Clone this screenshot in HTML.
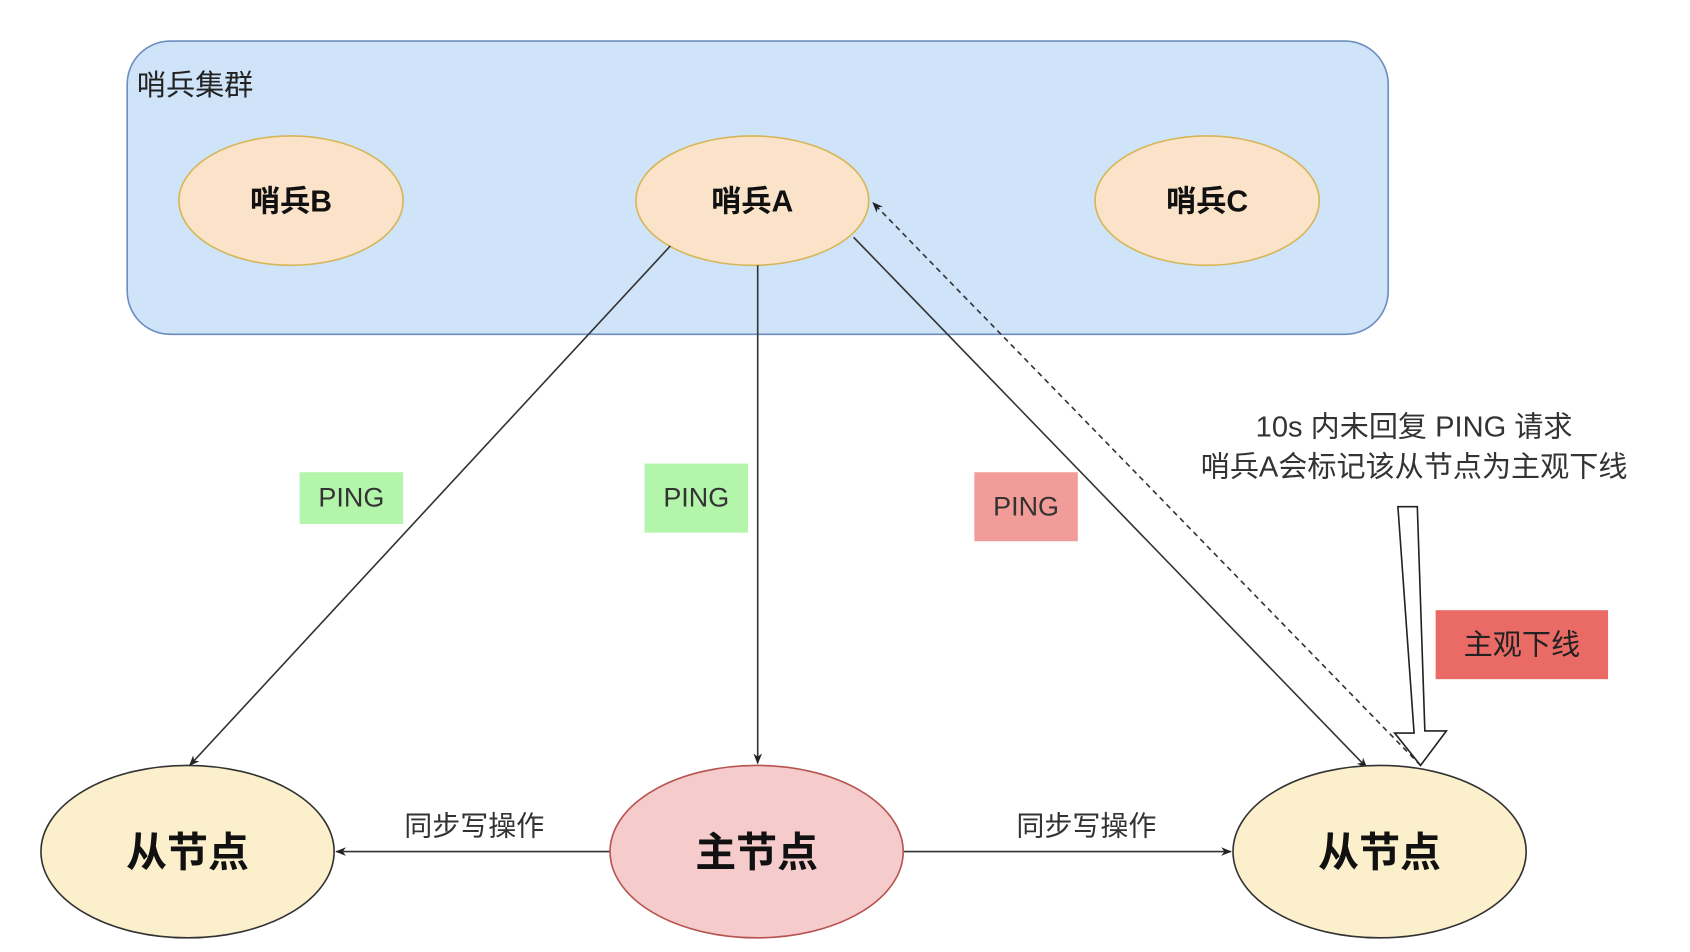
<!DOCTYPE html>
<html><head><meta charset="utf-8"><style>html,body{margin:0;padding:0;background:#fff;}svg{display:block}</style></head>
<body>
<svg width="1690" height="952" viewBox="0 0 1568 883" xmlns="http://www.w3.org/2000/svg" font-family="Liberation Sans, Noto Sans CJK SC, sans-serif">
<defs>
<marker id="ar" markerWidth="10" markerHeight="10" refX="9" refY="5" orient="auto" markerUnits="userSpaceOnUse"><path d="M0,1 L10,5 L0,9 L3,5 z" fill="#222"/></marker>
</defs>
<rect width="1568" height="883" fill="#fff"/>
<rect x="118" y="38" width="1170" height="272" rx="40" fill="#cfe3f9" stroke="#6c8ebf" stroke-width="1.5"/>
<text x="127" y="88" font-size="27" fill="#222">哨兵集群</text>
<g fill="#fbe3c9" stroke="#d6b656" stroke-width="1.5">
<ellipse cx="270" cy="186" rx="104" ry="60"/>
<ellipse cx="698" cy="186" rx="108" ry="60"/>
<ellipse cx="1120" cy="186" rx="104" ry="60"/>
</g>
<g font-size="28" font-weight="bold" text-anchor="middle" fill="#111">
<text x="270" y="196">哨兵B</text>
<text x="698" y="196">哨兵A</text>
<text x="1120" y="196">哨兵C</text>
</g>
<g stroke="#333" stroke-width="1.5" fill="none">
<line x1="622" y1="228" x2="176" y2="710" marker-end="url(#ar)"/>
<line x1="703" y1="246" x2="703" y2="708" marker-end="url(#ar)"/>
<line x1="792" y1="220" x2="1268" y2="712" marker-end="url(#ar)"/>
<line x1="1318" y1="710" x2="810" y2="188" stroke-dasharray="5,4" marker-end="url(#ar)"/>
<line x1="566" y1="790" x2="312" y2="790" marker-end="url(#ar)"/>
<line x1="838" y1="790" x2="1142" y2="790" marker-end="url(#ar)"/>
</g>
<rect x="278" y="438" width="96" height="48" fill="#b3f5ab"/>
<rect x="598" y="430" width="96" height="64" fill="#b3f5ab"/>
<rect x="904" y="438" width="96" height="64" fill="#f19c99"/>
<g font-size="25" fill="#333" text-anchor="middle">
<text x="326" y="470">PING</text>
<text x="646" y="470">PING</text>
<text x="952" y="478">PING</text>
<text x="1312" y="405" font-size="27">10s 内未回复 PING 请求</text>
<text x="1312" y="442" font-size="27">哨兵A会标记该从节点为主观下线</text>
<text x="440" y="775" font-size="26">同步写操作</text>
<text x="1008" y="775" font-size="26">同步写操作</text>
</g>
<path d="M1297,470 L1315,470 L1322,678 L1342,678 L1318,710 L1294,680 L1312,680 Z" fill="#fff" stroke="#222" stroke-width="1.5"/>
<rect x="1332" y="566" width="160" height="64" fill="#ea6b66"/>
<text x="1412" y="607" font-size="27" fill="#222" text-anchor="middle">主观下线</text>
<ellipse cx="174" cy="790" rx="136" ry="80" fill="#fcf0cc" stroke="#333" stroke-width="1.5"/>
<ellipse cx="702" cy="790" rx="136" ry="80" fill="#f5cccb" stroke="#b85450" stroke-width="1.5"/>
<ellipse cx="1280" cy="790" rx="136" ry="80" fill="#fcf0cc" stroke="#333" stroke-width="1.5"/>
<g font-size="38" font-weight="bold" text-anchor="middle" fill="#111">
<text x="174" y="804">从节点</text>
<text x="702" y="804">主节点</text>
<text x="1280" y="804">从节点</text>
</g>
</svg>
</body></html>
